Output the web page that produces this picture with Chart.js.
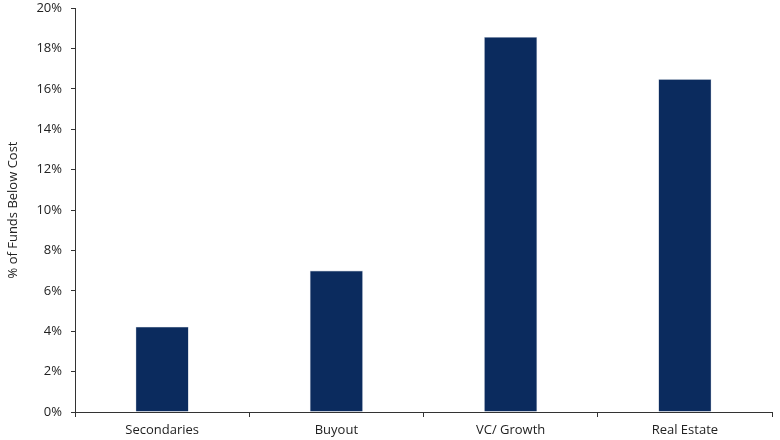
<!DOCTYPE html>
<html>
<head>
<meta charset="utf-8">
<script src="https://cdn.jsdelivr.net/npm/chart.js@4.4.1/dist/chart.umd.min.js"></script>
<style>
  html, body { margin: 0; padding: 0; background: #fff; }
  #wrap { width: 780px; height: 440px; }
</style>
</head>
<body>
<div id="wrap"><canvas id="chart"></canvas></div>
<script>
// Chart data
const categories = ['Secondaries', 'Buyout', 'VC/ Growth', 'Real Estate'];
const belowCost = [4.22, 7.0, 18.57, 16.48];
const yTicks = [0, 2, 4, 6, 8, 10, 12, 14, 16, 18, 20];

const barColor = '#0b2b5e';
const textColor = '#222222';

Chart.defaults.font.family = '"Open Sans", "DejaVu Sans", sans-serif';
Chart.defaults.font.size = 13;
Chart.defaults.color = textColor;

new Chart(document.getElementById('chart'), {
    type: 'bar',
    data: {
        labels: categories,
        datasets: [{
            label: '% of Funds Below Cost',
            data: belowCost,
            backgroundColor: barColor,
            borderColor: '#c8d0dc',
            borderWidth: 0.6,
            barPercentage: 0.305,
            categoryPercentage: 1
        }]
    },
    options: {
        responsive: true,
        maintainAspectRatio: false,
        animation: false,
        layout: {
            padding: { top: 0, right: 8, bottom: 0, left: 0 }
        },
        plugins: {
            legend: { display: false },
            tooltip: { enabled: false }
        },
        scales: {
            x: {
                grid: {
                    offset: true,
                    drawOnChartArea: false,
                    drawTicks: true,
                    tickLength: 5,
                    color: '#333'
                },
                border: { color: '#333', width: 1 },
                ticks: { padding: 5, color: textColor },
                afterFit: function(scale) { scale.height = 28; }
            },
            y: {
                min: 0,
                max: 20,
                afterBuildTicks: function(scale) {
                    scale.ticks = yTicks.map(v => ({ value: v }));
                },
                grid: {
                    drawOnChartArea: false,
                    drawTicks: true,
                    tickLength: 4,
                    color: '#333'
                },
                border: { color: '#333', width: 1 },
                ticks: {
                    padding: 9,
                    color: textColor,
                    callback: function(value) { return value + '%'; }
                },
                title: {
                    display: true,
                    text: '% of Funds Below Cost',
                    color: textColor,
                    font: { size: 13 },
                    padding: { top: 5, bottom: 0 }
                },
                afterFit: function(scale) {
                    scale.width = 75;
                    scale.paddingTop = 8;
                    scale.paddingBottom = 0;
                }
            }
        }
    }
});
</script>
</body>
</html>
